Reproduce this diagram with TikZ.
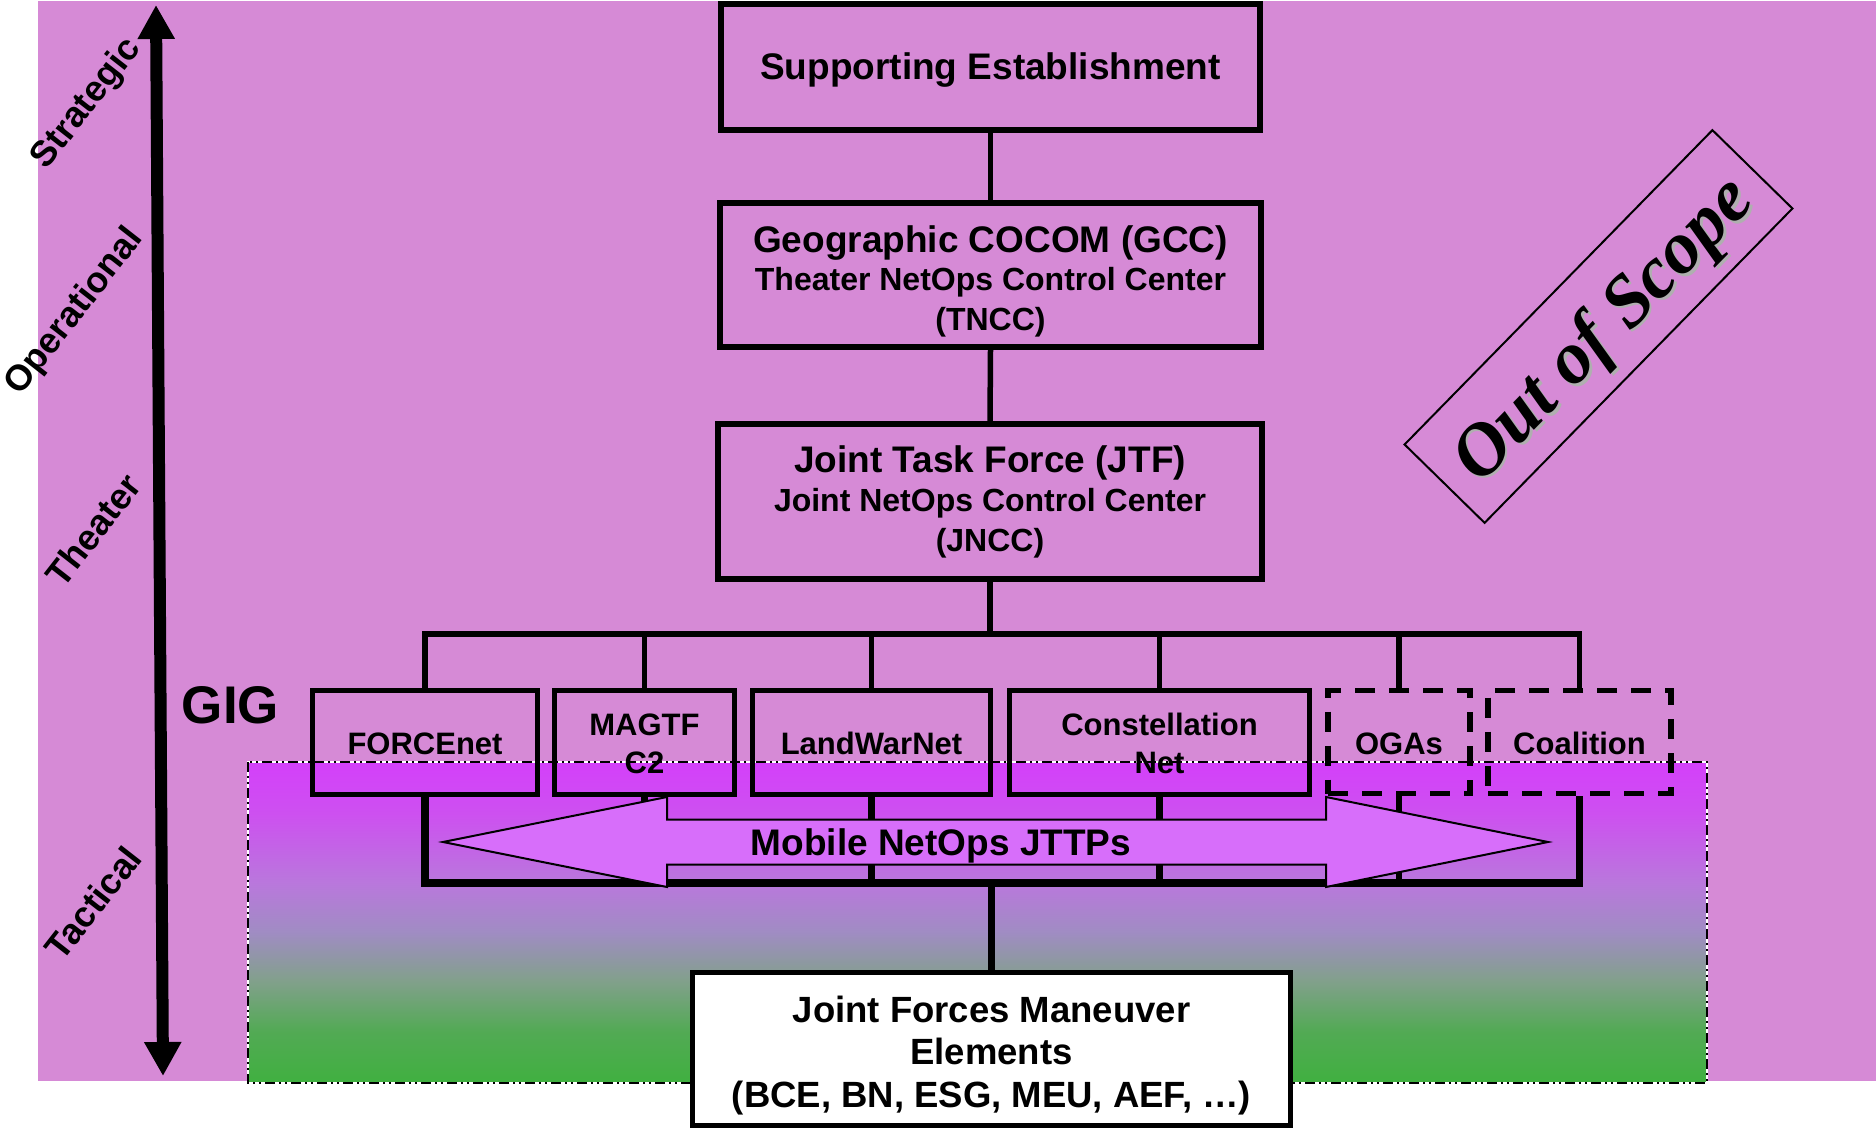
\documentclass[tikz,border=0pt]{standalone}
\usepackage{fontspec}
\setmainfont{Liberation Sans}
\newfontfamily\oosfont{Liberation Serif}
\usetikzlibrary{arrows.meta}
\definecolor{bgpink}{RGB}{214,138,214}
\definecolor{gA}{RGB}{64,176,64}
\definecolor{gB}{RGB}{82,170,84}
\definecolor{gC}{RGB}{130,160,140}
\definecolor{gD}{RGB}{160,140,195}
\definecolor{gE}{RGB}{185,120,220}
\definecolor{gF}{RGB}{205,80,240}
\definecolor{gG}{RGB}{212,64,250}
\definecolor{arrowfill}{RGB}{215,110,250}
\definecolor{shadowgray}{RGB}{175,175,175}
\pgfdeclareverticalshading{gigshade}{100bp}{color(0bp)=(gA); color(25bp)=(gA); color(33bp)=(gB); color(41bp)=(gC); color(48.5bp)=(gD); color(56bp)=(gE); color(67bp)=(gF); color(75bp)=(gG); color(100bp)=(gG)}
\tikzset{
  boxnode/.style={draw=black, line width=5.5pt, inner sep=0pt},
  dashbox/.style={boxnode, dash pattern=on 20pt off 14pt},
  conn/.style={draw=black, line width=5.5pt},
  lconn/.style={draw=black, line width=7.5pt},
  bigtxt/.style={inner sep=0pt, anchor=base, font=\bfseries\fontsize{37}{40}\selectfont},
  midtxt/.style={inner sep=0pt, anchor=base, font=\bfseries\fontsize{32}{40}\selectfont},
  smtxt/.style={inner sep=0pt, anchor=base, font=\bfseries\fontsize{31}{38}\selectfont},
  lvltxt/.style={inner sep=0pt, rotate=52, font=\bfseries\fontsize{36}{40}\selectfont},
  jarrow/.style={draw=black, line width=2pt, fill=arrowfill, line join=miter},
  oostxt/.style={inner sep=0pt, rotate=45.6, font=\oosfont\bfseries\itshape\fontsize{74}{74}\selectfont}
}
\begin{document}
\begin{tikzpicture}[x=1pt,y=-1pt,line join=miter]
\useasboundingbox (0,0) rectangle (1876,1131);
\fill[white] (0,0) rectangle (1876,1131);
\fill[bgpink] (38,1) rectangle (1876,1081);
% GIG tactical shaded region
\shade[shading=gigshade] (248,762) rectangle (1707,1083);
\draw[white, line width=1.2pt] (248,762) rectangle (1707,1083);
\draw[black, line width=2pt, dash pattern=on 10pt off 4pt on 2pt off 4pt on 2pt off 4pt] (248,762) rectangle (1707,1083);

% level axis
\coordinate (axtop) at (156,5);
\coordinate (axbot) at (163,1076);
\draw[line width=12pt, {Triangle[width=35pt,length=34pt]}-{Triangle[width=35pt,length=34pt]}] (axtop) -- (axbot);
\node[lvltxt] (lstrat) at (87,104) {Strategic};
\node[lvltxt] (loper) at (75,312) {Operational};
\node[lvltxt] (lthea) at (93,530) {Theater};
\node[lvltxt] (ltact) at (93,903) {Tactical};
\node[inner sep=0pt, anchor=base, font=\bfseries\fontsize{53}{56}\selectfont] (gig) at (230.5,723) {GIG};

% boxes
\node[boxnode, minimum width=539pt, minimum height=126pt] (se) at (990.5,67) {};
\node[boxnode, minimum width=541pt, minimum height=144pt] (gcc) at (990.5,275) {};
\node[boxnode, minimum width=544pt, minimum height=155pt] (jtf) at (990,501.5) {};
\node[boxnode, minimum width=225pt, minimum height=104pt] (forcenet) at (425,742.5) {};
\node[boxnode, minimum width=180pt, minimum height=104pt] (magtf) at (644.5,742.5) {};
\node[boxnode, minimum width=238pt, minimum height=104pt] (landwar) at (871.5,742.5) {};
\node[boxnode, minimum width=300pt, minimum height=104pt] (constel) at (1159.5,742.5) {};
\node[dashbox, minimum width=142pt, minimum height=103pt] (ogas) at (1399,742) {};
\node[dashbox, minimum width=183pt, minimum height=103pt] (coal) at (1579.5,742) {};

% connectors
\coordinate (ubus) at (990,634);
\coordinate (lbus) at (990,883);
\draw[conn] (se.south) -- (gcc.north);
\draw[conn] (gcc.south) -- (jtf.north);
\draw[conn] (jtf.south) -- (jtf.south |- ubus);
\draw[conn] (forcenet.north) -- (forcenet.north |- ubus) -- (coal.north |- ubus) -- (coal.north);
\foreach \n in {magtf,landwar,constel,ogas} \draw[conn] (\n.north) -- (\n.north |- ubus);
\draw[lconn] (forcenet.south) -- (forcenet.south |- lbus) -- (coal.south |- lbus) -- (coal.south);
\foreach \n in {magtf,landwar,constel,ogas} \draw[lconn, line width=6.5pt] (\n.south) -- (\n.south |- lbus);

% JFME box
\node[boxnode, fill=white, minimum width=598pt, minimum height=153pt] (jfme) at (991.5,1049) {};
\draw[lconn] (jfme.north) -- (jfme.north |- lbus);

% Mobile NetOps JTTPs double arrow
\draw[jarrow] (443,842) -- (667,797) -- (667,819.5) -- (1326,819.5) -- (1326,797) -- (1548,842) -- (1326,887) -- (1326,864.5) -- (667,864.5) -- (667,887) -- cycle;
\node[bigtxt] (jttp) at (941,855) {Mobile NetOps JTTPs};

% texts
\node[bigtxt] (seT) at (990.5,80) {Supporting Establishment};
\node[bigtxt] (gccA) at (990.5,252.5) {Geographic COCOM (GCC)};
\node[midtxt] (gccB) at (990.5,291) {Theater NetOps Control Center};
\node[midtxt] (gccC) at (990.5,330.5) {(TNCC)};
\node[bigtxt] (jtfA) at (990,472) {Joint Task Force (JTF)};
\node[midtxt] (jtfB) at (990,511.5) {Joint NetOps Control Center};
\node[midtxt] (jtfC) at (990,551) {(JNCC)};
\node[smtxt] (fnT) at (425,754) {FORCEnet};
\node[smtxt] (mgA) at (644.5,735) {MAGTF};
\node[smtxt] (mgB) at (644.5,773) {C2};
\node[smtxt] (lwT) at (871.5,754) {LandWarNet};
\node[smtxt] (cnA) at (1159.5,735) {Constellation};
\node[smtxt] (cnB) at (1159.5,773) {Net};
\node[smtxt] (ogT) at (1399,754) {OGAs};
\node[smtxt] (coT) at (1579.5,754) {Coalition};
\node[bigtxt, font=\bfseries\fontsize{36.5}{40}\selectfont] (jfA) at (991.5,1022) {Joint Forces Maneuver};
\node[bigtxt, font=\bfseries\fontsize{36.5}{40}\selectfont] (jfB) at (991.5,1064) {Elements};
\node[bigtxt, font=\bfseries\fontsize{36.5}{40}\selectfont] (jfC) at (991.5,1107) {(BCE, BN, ESG, MEU, AEF, …)};

% Out of scope
\node[draw=black, line width=2pt, inner sep=0pt, minimum width=440pt, minimum height=112pt, rotate=45.6] (oos) at (1598.5,326.5) {};
\node[oostxt, text=shadowgray] (oosS) at ([xshift=9.5pt,yshift=-7.5pt]oos.center) {Out of Scope};
\node[oostxt] (oosT) at ([xshift=7pt,yshift=-5pt]oos.center) {Out of Scope};
\end{tikzpicture}
\end{document}
